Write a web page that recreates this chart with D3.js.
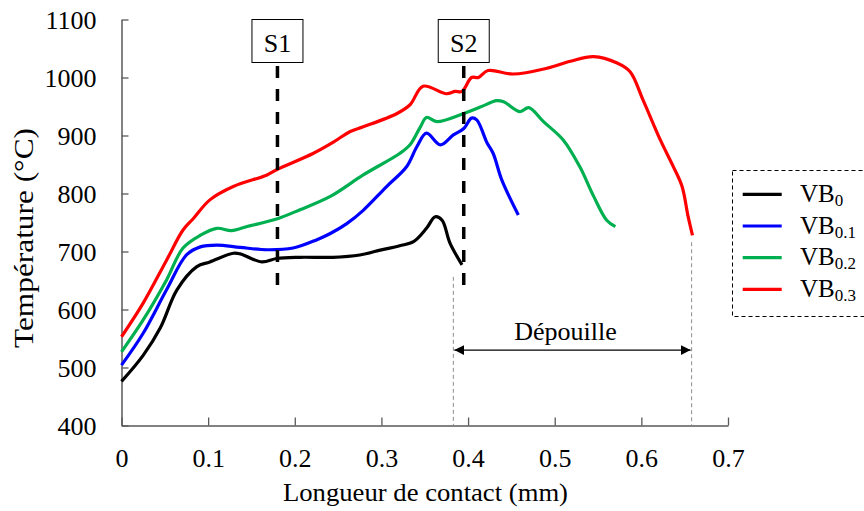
<!DOCTYPE html>
<html>
<head>
<meta charset="utf-8">
<script src="https://cdn.jsdelivr.net/npm/d3@7"></script>
<style>
  html, body { margin: 0; padding: 0; background: #fff; }
  svg { display: block; }
  svg text { font-family: "Liberation Serif", "Times New Roman", Times, serif !important; }
</style>
</head>
<body>
<svg id="chart" width="864" height="511"></svg>
<script>
// ---------- data ----------
const seriesNames = ["VB0", "VB0.1", "VB0.2", "VB0.3"];
const seriesSubs  = ["0", "0.1", "0.2", "0.3"];
const seriesColors = ["#000000", "#0000FF", "#00B050", "#FF0000"];

const vb0_x = [0, 0.025, 0.045, 0.064, 0.087, 0.102, 0.129, 0.137, 0.162, 0.179, 0.206, 0.244, 0.275, 0.295, 0.321, 0.337, 0.352, 0.362, 0.370, 0.379, 0.393];
const vb0_y = [476, 521, 569, 634, 674, 682, 697, 696, 682, 688, 690, 690, 694, 701, 710, 717, 740, 760, 754, 715, 677];

const vb01_x = [0, 0.025, 0.052, 0.075, 0.091, 0.110, 0.137, 0.168, 0.198, 0.225, 0.241, 0.260, 0.279, 0.306, 0.329, 0.341, 0.352, 0.368, 0.383, 0.395, 0.404, 0.410, 0.422, 0.429, 0.439, 0.458];
const vb01_y = [504, 559, 634, 694, 708, 711, 707, 703, 706, 720, 731, 748, 771, 812, 846, 881, 904, 884, 901, 912, 930, 927, 887, 869, 823, 763];

const vb02_x = [0, 0.025, 0.052, 0.071, 0.091, 0.110, 0.127, 0.145, 0.179, 0.206, 0.241, 0.279, 0.321, 0.333, 0.345, 0.352, 0.364, 0.395, 0.414, 0.433, 0.441, 0.460, 0.470, 0.487, 0.510, 0.529, 0.545, 0.560, 0.570];
const vb02_y = [527, 582, 651, 706, 728, 740, 736, 743, 756, 772, 795, 832, 869, 884, 915, 931, 924, 938, 949, 960, 958, 941, 948, 924, 892, 846, 795, 754, 743];

const vb03_x = [0, 0.025, 0.052, 0.071, 0.083, 0.102, 0.129, 0.168, 0.179, 0.221, 0.245, 0.264, 0.279, 0.318, 0.333, 0.348, 0.375, 0.385, 0.393, 0.404, 0.412, 0.423, 0.452, 0.491, 0.518, 0.545, 0.572, 0.587, 0.602, 0.622, 0.637, 0.647, 0.654, 0.659];
const vb03_y = [553, 611, 685, 737, 757, 789, 812, 832, 841, 869, 889, 907, 915, 938, 953, 985, 972, 976, 976, 1000, 1000, 1012, 1006, 1016, 1028, 1036, 1025, 1010, 961, 892, 846, 812, 760, 728];

const xTicks = [0, 0.1, 0.2, 0.3, 0.4, 0.5, 0.6, 0.7];
const xTickLabels = ["0", "0.1", "0.2", "0.3", "0.4", "0.5", "0.6", "0.7"];
const yTicks = [400, 500, 600, 700, 800, 900, 1000, 1100];
const yTickLabels = ["400", "500", "600", "700", "800", "900", "1000", "1100"];

const sectionNames = ["S1", "S2"];
const sectionX = [0.18, 0.395];
const sectionYEnd = [630, 630];

const depouilleStart = 0.383;
const depouilleEnd = 0.658;
const depouilleArrowY = 530;
const depouilleLabel = "Dépouille";

const xTitle = "Longueur de contact (mm)";
const yTitle = "Température (°C)";

// ---------- build ----------
const FONT = "'Liberation Serif', 'Times New Roman', Times, serif";
const svg = d3.select("#chart");
const x = d3.scaleLinear().domain([0, 0.7]).range([121.5, 728]);
const y = d3.scaleLinear().domain([400, 1100]).range([425.5, 19.5]);

const axisColor = "#595959";

// axes
const xAxis = d3.axisBottom(x).tickValues(xTicks)
  .tickFormat((d, i) => xTickLabels[i]).tickSizeInner(-8).tickSizeOuter(0);
const gx = svg.append("g").attr("transform", `translate(0,${y(400)})`).call(xAxis)
  .attr("font-family", FONT);
gx.select(".domain").attr("stroke", axisColor).attr("stroke-width", 1.5);
gx.selectAll(".tick line").attr("stroke", axisColor).attr("stroke-width", 1.3);
gx.selectAll(".tick text").attr("y", 41.5).attr("dy", null)
  .style("font-family", FONT).attr("font-size", 26).attr("fill", "#000");

const yAxis = d3.axisLeft(y).tickValues(yTicks)
  .tickFormat((d, i) => yTickLabels[i]).tickSizeInner(-7).tickSizeOuter(0).tickPadding(25);
const gy = svg.append("g").attr("transform", `translate(${x(0)},0)`).call(yAxis)
  .attr("font-family", FONT);
gy.select(".domain").attr("stroke", axisColor).attr("stroke-width", 1.5);
gy.selectAll(".tick line").attr("stroke", axisColor).attr("stroke-width", 1.3);
gy.selectAll(".tick text").attr("dy", "0.34em")
  .style("font-family", FONT).attr("font-size", 26).attr("fill", "#000");

// axis titles
svg.append("text").attr("x", 425.5).attr("y", 501).attr("text-anchor", "middle")
  .style("font-family", FONT).attr("font-size", 26)
  .attr("textLength", 285).attr("lengthAdjust", "spacingAndGlyphs")
  .text(xTitle);
svg.append("text").attr("transform", "translate(32.5,238) rotate(-90)")
  .attr("text-anchor", "middle").style("font-family", FONT).attr("font-size", 27)
  .attr("textLength", 220).attr("lengthAdjust", "spacingAndGlyphs")
  .text(yTitle);

// dépouille guides
[depouilleStart, depouilleEnd].forEach((v, i) => {
  const top = i === 0 ? y(677) + 12 : y(728) + 7;
  svg.append("line").attr("x1", x(v)).attr("x2", x(v)).attr("y1", top).attr("y2", y(400))
    .attr("stroke", "#8c8c8c").attr("stroke-width", 1).attr("stroke-dasharray", "4,3");
});
const defs = svg.append("defs");
defs.append("marker").attr("id", "arrowEnd").attr("viewBox", "0 0 10 10")
  .attr("refX", 10).attr("refY", 5).attr("markerWidth", 10).attr("markerHeight", 10)
  .attr("markerUnits", "userSpaceOnUse").attr("orient", "auto")
  .append("path").attr("d", "M0,0 L10,5 L0,10 z").attr("fill", "#000");
defs.append("marker").attr("id", "arrowStart").attr("viewBox", "0 0 10 10")
  .attr("refX", 0).attr("refY", 5).attr("markerWidth", 10).attr("markerHeight", 10)
  .attr("markerUnits", "userSpaceOnUse").attr("orient", "auto")
  .append("path").attr("d", "M10,0 L0,5 L10,10 z").attr("fill", "#000");
svg.append("line").attr("x1", x(depouilleStart) + 1).attr("x2", x(depouilleEnd) - 1)
  .attr("y1", y(depouilleArrowY)).attr("y2", y(depouilleArrowY))
  .attr("stroke", "#000").attr("stroke-width", 1.3)
  .attr("marker-start", "url(#arrowStart)").attr("marker-end", "url(#arrowEnd)");
svg.append("text").attr("x", (x(depouilleStart) + x(depouilleEnd)) / 2 - 7)
  .attr("y", y(depouilleArrowY) - 10).attr("text-anchor", "middle")
  .style("font-family", FONT).attr("font-size", 26).text(depouilleLabel);

// curves
const line = d3.line().x(d => x(d[0])).y(d => y(d[1])).curve(d3.curveCatmullRom.alpha(0.5));
const seriesX = [vb0_x, vb01_x, vb02_x, vb03_x];
const seriesY = [vb0_y, vb01_y, vb02_y, vb03_y];
[3, 2, 1, 0].forEach(i => {
  const pts = seriesX[i].map((v, j) => [v, seriesY[i][j]]);
  svg.append("path").datum(pts).attr("d", line).attr("fill", "none")
    .attr("stroke", seriesColors[i]).attr("stroke-width", 3.2)
    .attr("stroke-linejoin", "round").attr("stroke-linecap", "butt");
});

// section lines and boxes
sectionNames.forEach((name, i) => {
  const cx = x(sectionX[i]);
  svg.append("line").attr("x1", cx).attr("x2", cx).attr("y1", 66).attr("y2", y(sectionYEnd[i]))
    .attr("stroke", "#000").attr("stroke-width", 3.5).attr("stroke-dasharray", "12,11");
  svg.append("rect").attr("x", cx - 25.5).attr("y", 19.5).attr("width", 51).attr("height", 43)
    .attr("fill", "#fff").attr("stroke", "#000").attr("stroke-width", 1);
  svg.append("text").attr("x", cx).attr("y", 51.5).attr("text-anchor", "middle")
    .style("font-family", FONT).attr("font-size", 26).text(name);
});

// legend
svg.append("rect").attr("x", 732.5).attr("y", 170.5).attr("width", 140).attr("height", 146)
  .attr("fill", "#fff").attr("stroke", "#000").attr("stroke-width", 1).attr("stroke-dasharray", "4,3");
seriesNames.forEach((name, i) => {
  const ly = 194.3 + i * 31.7;
  svg.append("line").attr("x1", 742.7).attr("x2", 781.7).attr("y1", ly).attr("y2", ly)
    .attr("stroke", seriesColors[i]).attr("stroke-width", 3.2);
  const t = svg.append("text").attr("x", 800).attr("y", ly + 7.5)
    .style("font-family", FONT).attr("font-size", 25);
  t.append("tspan").text("VB");
  t.append("tspan").attr("font-size", 17).attr("dy", 4).text(seriesSubs[i]);
});
</script>
</body>
</html>
